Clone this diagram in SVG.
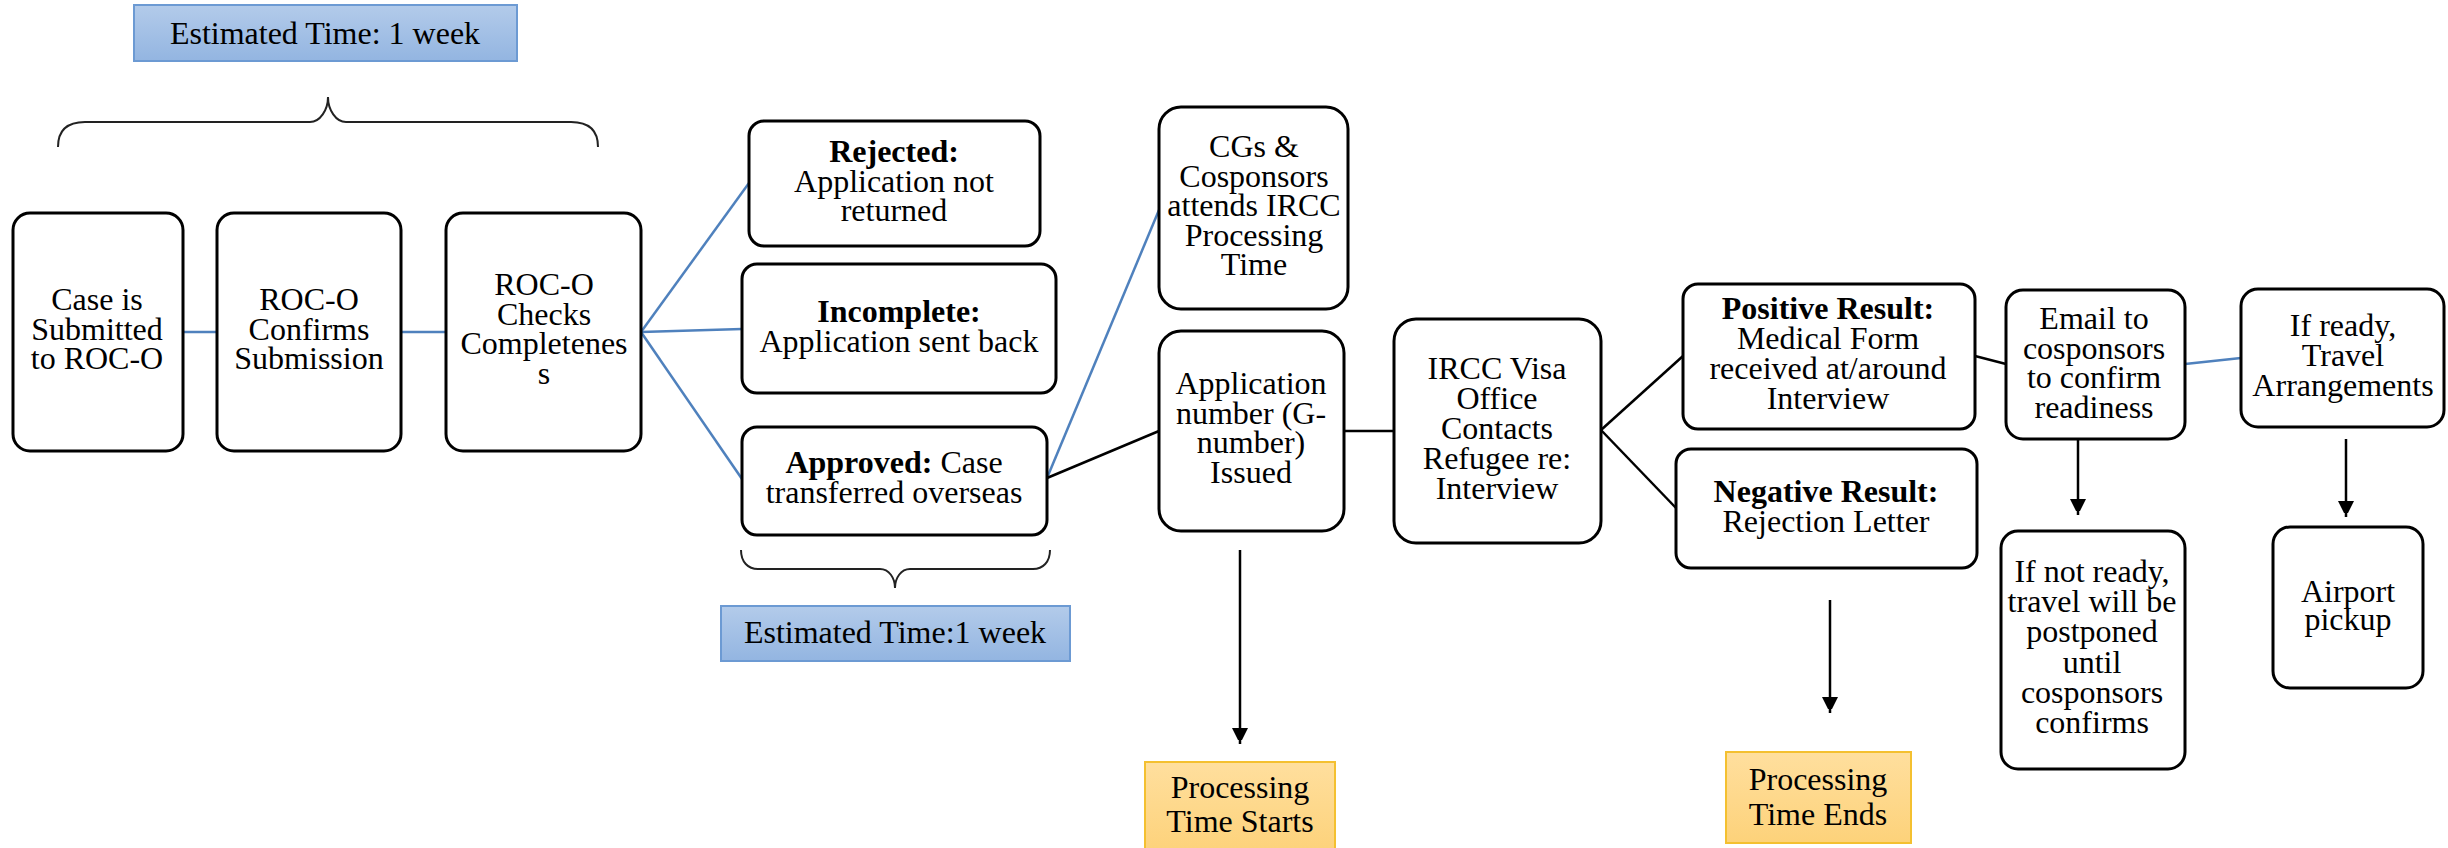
<svg xmlns="http://www.w3.org/2000/svg" width="2448" height="848" viewBox="0 0 2448 848">
<defs>
<linearGradient id="gBlue" x1="0" y1="0" x2="0" y2="1"><stop offset="0" stop-color="#b3cbea"/><stop offset="1" stop-color="#93b5e1"/></linearGradient>
<linearGradient id="gGold" x1="0" y1="0" x2="0" y2="1"><stop offset="0" stop-color="#ffdf9e"/><stop offset="1" stop-color="#fdd27a"/></linearGradient>
<marker id="arr" viewBox="0 0 10 10" refX="10" refY="5" markerWidth="6" markerHeight="6" markerUnits="userSpaceOnUse" orient="auto"><path d="M0,0 L10,5 L0,10 z" fill="#000"/></marker>
<marker id="arrow" viewBox="0 0 12 16" refX="16" refY="8" markerWidth="12" markerHeight="16" markerUnits="userSpaceOnUse" orient="auto"><path d="M0,0 L16,8 L0,16 z" fill="#000"/></marker>
</defs>
<style>
.box{fill:#fff;stroke:#000;stroke-width:3}
.est{fill:url(#gBlue);stroke:#6c9ad3;stroke-width:2}
.proc{fill:url(#gGold);stroke:#f4c030;stroke-width:2}
text{font-family:"Liberation Serif","Times New Roman",serif;font-size:32px;fill:#000;text-anchor:middle}
.b{font-weight:bold}
.blue{stroke:#4f81bd;stroke-width:2.5;fill:none}
.blk{stroke:#000;stroke-width:2.5;fill:none}
.brace{stroke:#222;stroke-width:2;fill:none}
</style>
<rect width="2448" height="848" fill="#fff"/>

<g id="connectors">
<line class="blue" x1="183" y1="332" x2="217" y2="332"/>
<line class="blue" x1="401" y1="332" x2="446" y2="332"/>
<line class="blue" x1="641" y1="332" x2="749" y2="183"/>
<line class="blue" x1="641" y1="332" x2="742" y2="329"/>
<line class="blue" x1="641" y1="332" x2="742" y2="479"/>
<line class="blue" x1="1047" y1="478" x2="1159" y2="210"/>
<line class="blk" x1="1047" y1="478" x2="1159" y2="431"/>
<line class="blk" x1="1344" y1="431" x2="1394" y2="431"/>
<line class="blk" x1="1601" y1="430" x2="1683" y2="356"/>
<line class="blk" x1="1601" y1="430" x2="1676" y2="508"/>
<line class="blk" x1="1975" y1="356" x2="2006" y2="364"/>
<line class="blue" x1="2185" y1="364" x2="2241" y2="358"/>
<line class="blk" x1="1240" y1="550" x2="1240" y2="744" marker-end="url(#arrow)"/>
<line class="blk" x1="1830" y1="600" x2="1830" y2="713" marker-end="url(#arrow)"/>
<line class="blk" x1="2078" y1="438" x2="2078" y2="515" marker-end="url(#arrow)"/>
<line class="blk" x1="2346" y1="439" x2="2346" y2="517" marker-end="url(#arrow)"/>
</g>

<g id="brace-top">
<path class="brace" d="M58,147 C58,130 68,122 85,122 L310,122 C320,122 328,110 328,97 C328,110 336,122 346,122 L571,122 C588,122 598,130 598,147"/>
</g>
<g id="brace-bottom">
<path class="brace" d="M741,550 C741,562 748,569 758,569 L880,569 C889,569 895,578 895,588 C895,578 901,569 910,569 L1033,569 C1043,569 1050,562 1050,550"/>
</g>

<g id="est-top">
<rect class="est" x="134" y="5" width="383" height="56"/>
<text x="325" y="44">Estimated Time: 1 week</text>
</g>
<g id="est-bottom">
<rect class="est" x="721" y="606" width="349" height="55"/>
<text x="895" y="643">Estimated Time:1 week</text>
</g>

<g id="n-submitted">
<rect class="box" x="13" y="213" width="170" height="238" rx="17"/>
<text x="97" y="310"><tspan x="97">Case is</tspan><tspan x="97" dy="29.5">Submitted</tspan><tspan x="97" dy="29.5">to ROC-O</tspan></text>
</g>
<g id="n-confirms">
<rect class="box" x="217" y="213" width="184" height="238" rx="17"/>
<text x="309" y="310"><tspan x="309">ROC-O</tspan><tspan x="309" dy="29.5">Confirms</tspan><tspan x="309" dy="29.5">Submission</tspan></text>
</g>
<g id="n-checks">
<rect class="box" x="446" y="213" width="195" height="238" rx="17"/>
<text x="544" y="295"><tspan x="544">ROC-O</tspan><tspan x="544" dy="29.5">Checks</tspan><tspan x="544" dy="29.5">Completenes</tspan><tspan x="544" dy="29.5">s</tspan></text>
</g>

<g id="n-rejected">
<rect class="box" x="749" y="121" width="291" height="125" rx="15"/>
<text x="894" y="162"><tspan x="894" class="b">Rejected:</tspan><tspan x="894" dy="29.5">Application not</tspan><tspan x="894" dy="29.5">returned</tspan></text>
</g>
<g id="n-incomplete">
<rect class="box" x="742" y="264" width="314" height="129" rx="15"/>
<text x="899" y="322"><tspan x="899" class="b">Incomplete:</tspan><tspan x="899" dy="29.5">Application sent back</tspan></text>
</g>
<g id="n-approved">
<rect class="box" x="742" y="427" width="305" height="108" rx="15"/>
<text x="894" y="473"><tspan x="894"><tspan class="b">Approved:</tspan> Case</tspan><tspan x="894" dy="29.5">transferred overseas</tspan></text>
</g>

<g id="n-cgs">
<rect class="box" x="1159" y="107" width="189" height="202" rx="22"/>
<text x="1254" y="157"><tspan x="1254">CGs &amp;</tspan><tspan x="1254" dy="29.5">Cosponsors</tspan><tspan x="1254" dy="29.5">attends IRCC</tspan><tspan x="1254" dy="29.5">Processing</tspan><tspan x="1254" dy="29.5">Time</tspan></text>
</g>
<g id="n-appnum">
<rect class="box" x="1159" y="331" width="185" height="200" rx="22"/>
<text x="1251" y="394"><tspan x="1251">Application</tspan><tspan x="1251" dy="29.5">number (G-</tspan><tspan x="1251" dy="29.5">number)</tspan><tspan x="1251" dy="29.5">Issued</tspan></text>
</g>
<g id="n-start">
<rect class="proc" x="1145" y="762" width="190" height="90"/>
<text x="1240" y="798"><tspan x="1240">Processing</tspan><tspan x="1240" dy="34">Time Starts</tspan></text>
</g>

<g id="n-ircc">
<rect class="box" x="1394" y="319" width="207" height="224" rx="22"/>
<text x="1497" y="379"><tspan x="1497">IRCC Visa</tspan><tspan x="1497" dy="30">Office</tspan><tspan x="1497" dy="30">Contacts</tspan><tspan x="1497" dy="30">Refugee re:</tspan><tspan x="1497" dy="30">Interview</tspan></text>
</g>

<g id="n-positive">
<rect class="box" x="1683" y="284" width="292" height="145" rx="15"/>
<text x="1828" y="319"><tspan x="1828" class="b">Positive Result:</tspan><tspan x="1828" dy="30">Medical Form</tspan><tspan x="1828" dy="30">received at/around</tspan><tspan x="1828" dy="30">Interview</tspan></text>
</g>
<g id="n-negative">
<rect class="box" x="1676" y="449" width="301" height="119" rx="15"/>
<text x="1826" y="502"><tspan x="1826" class="b">Negative Result:</tspan><tspan x="1826" dy="30">Rejection Letter</tspan></text>
</g>
<g id="n-end">
<rect class="proc" x="1726" y="752" width="185" height="91"/>
<text x="1818" y="790"><tspan x="1818">Processing</tspan><tspan x="1818" dy="35">Time Ends</tspan></text>
</g>

<g id="n-email">
<rect class="box" x="2006" y="290" width="179" height="149" rx="17"/>
<text x="2094" y="329"><tspan x="2094">Email to</tspan><tspan x="2094" dy="29.5">cosponsors</tspan><tspan x="2094" dy="29.5">to confirm</tspan><tspan x="2094" dy="29.5">readiness</tspan></text>
</g>
<g id="n-notready">
<rect class="box" x="2001" y="531" width="184" height="238" rx="17"/>
<text x="2092" y="582"><tspan x="2092">If not ready,</tspan><tspan x="2092" dy="30.2">travel will be</tspan><tspan x="2092" dy="30.2">postponed</tspan><tspan x="2092" dy="30.2">until</tspan><tspan x="2092" dy="30.2">cosponsors</tspan><tspan x="2092" dy="30.2">confirms</tspan></text>
</g>
<g id="n-ifready">
<rect class="box" x="2241" y="289" width="203" height="138" rx="17"/>
<text x="2343" y="336"><tspan x="2343">If ready,</tspan><tspan x="2343" dy="30">Travel</tspan><tspan x="2343" dy="30">Arrangements</tspan></text>
</g>
<g id="n-airport">
<rect class="box" x="2273" y="527" width="150" height="161" rx="17"/>
<text x="2348" y="602"><tspan x="2348">Airport</tspan><tspan x="2348" dy="28">pickup</tspan></text>
</g>
</svg>
